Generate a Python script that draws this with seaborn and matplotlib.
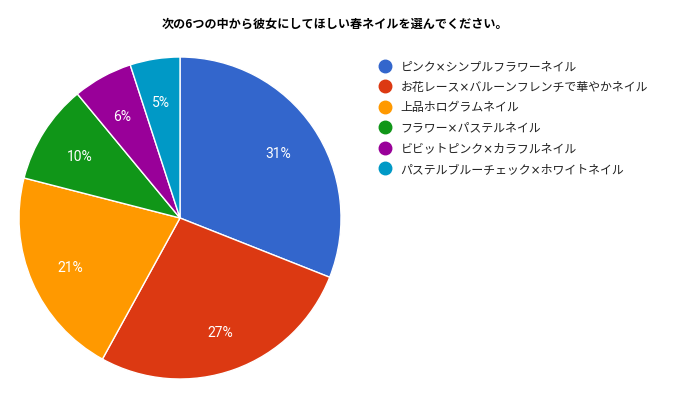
import matplotlib
matplotlib.use("Agg")
import matplotlib.pyplot as plt
import seaborn as sns
from matplotlib.lines import Line2D

sns.set_theme(style="white")
plt.rcParams['font.family'] = ['Noto Sans CJK JP', 'DejaVu Sans']

title = "次の6つの中から彼女にしてほしい春ネイルを選んでください。"
categories = [
    "ピンク×シンプルフラワーネイル",
    "お花レース×バルーンフレンチで華やかネイル",
    "上品ホログラムネイル",
    "フラワー×パステルネイル",
    "ビビットピンク×カラフルネイル",
    "パステルブルーチェック×ホワイトネイル",
]
values = [31, 27, 21, 10, 6, 5]
colors = ["#3366cc", "#dc3912", "#ff9900", "#109618", "#990099", "#0099c6"]

W, H = 673, 398
fig = plt.figure(figsize=(W / 100, H / 100), dpi=100)
cx, cy, r = 180, 218, 161
ax = fig.add_axes([(cx - r) / W, (H - (cy + r)) / H, 2 * r / W, 2 * r / H])

wedges, texts, autotexts = ax.pie(
    values, colors=colors, startangle=90, counterclock=False,
    autopct=lambda p: f"{p:.0f}%", pctdistance=0.74, radius=1,
    wedgeprops=dict(edgecolor="white", linewidth=1),
    textprops=dict(color="white", fontsize=10, family=["Roboto", "DejaVu Sans"]),
)
for t in autotexts:
    x, y = t.get_position()
    t.set_position((x, y - 3 / r))
ax.set_xlim(-1, 1)
ax.set_ylim(-1, 1)
ax.set_aspect("equal")
ax.axis("off")

fig.text(335 / W, 1 - 24 / H, title, ha="center", va="center",
         fontsize=8.7, fontweight="bold", color="#000000")

handles = [Line2D([0], [0], marker="o", linestyle="", markersize=9,
                  markerfacecolor=c, markeredgecolor=c) for c in colors]
leg = fig.legend(handles, categories, loc="upper left",
                 bbox_to_anchor=(379 / W, 1 - 60 / H), frameon=False,
                 prop=dict(family=["DejaVu Sans", "Noto Sans CJK JP"], size=8.6),
                 handletextpad=0.8, labelspacing=0.63,
                 handlelength=1.0, borderpad=0, borderaxespad=0)
for t in leg.get_texts():
    t.set_color("#222222")

fig.savefig("out.png", dpi=100, facecolor="white")
